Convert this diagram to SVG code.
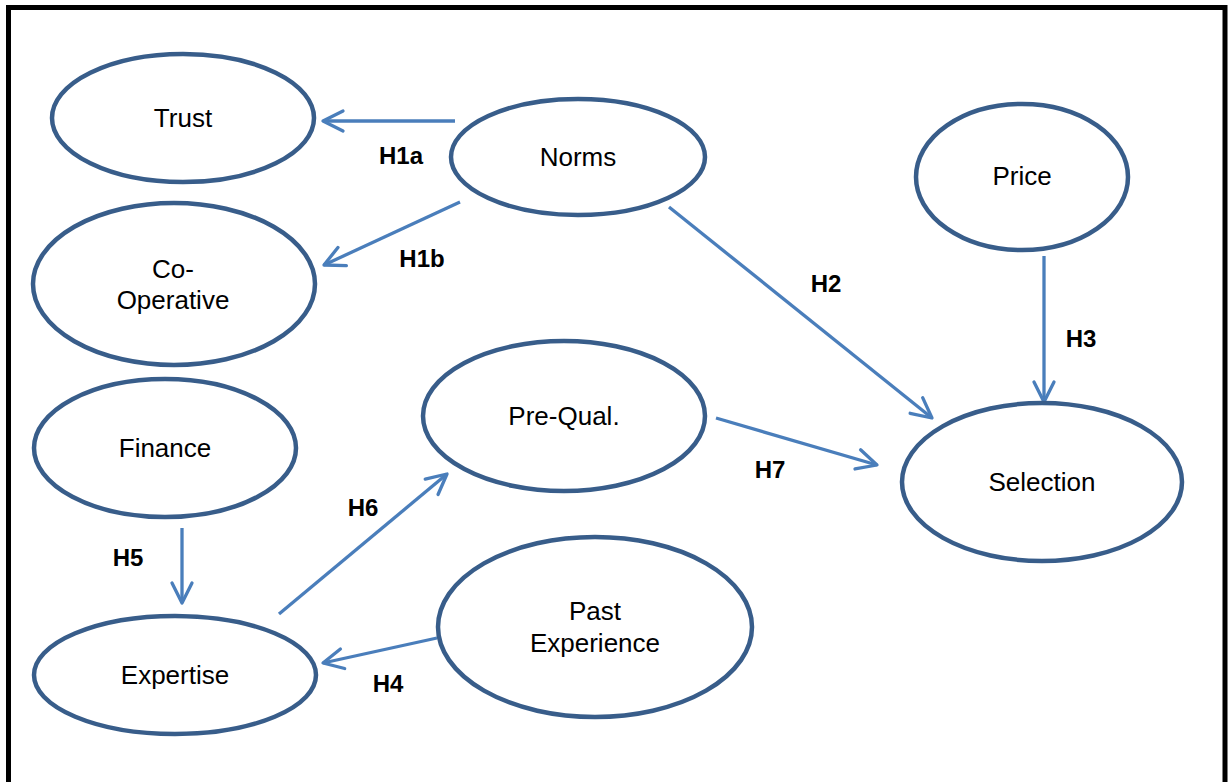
<svg xmlns="http://www.w3.org/2000/svg" width="1232" height="782" viewBox="0 0 1232 782">
  <defs>
    <style>
      .node { fill: #ffffff; stroke: #385d8a; stroke-width: 4.5; }
      .label { font-family: "Liberation Sans", Arial, sans-serif; font-size: 26px; fill: #000000; text-anchor: middle; }
      .hyp { font-family: "Liberation Sans", Arial, sans-serif; font-size: 24px; font-weight: bold; fill: #000000; text-anchor: middle; }
      .link { stroke: #4a7ebb; stroke-width: 3.3; fill: none; marker-end: url(#arrow); }
    </style>
    <marker id="arrow" markerUnits="userSpaceOnUse" viewBox="-24 -14 28 28" refX="0" refY="0" markerWidth="28" markerHeight="28" orient="auto">
      <path d="M-20,-10 L0,0 L-20,10" fill="none" stroke="#4a7ebb" stroke-width="3.3" stroke-linecap="round" stroke-linejoin="round"/>
    </marker>
  </defs>

  <rect width="1232" height="782" fill="#ffffff"/>
  <!-- outer frame -->
  <rect x="8.5" y="7.5" width="1216.5" height="800" fill="none" stroke="#000000" stroke-width="5"/>

  <g id="connectors">
    <line class="link" x1="455" y1="121" x2="323" y2="121"/>
    <line class="link" x1="460" y1="202" x2="324" y2="265"/>
    <line class="link" x1="669" y1="207" x2="932" y2="418"/>
    <line class="link" x1="1044" y1="256" x2="1044" y2="402"/>
    <line class="link" x1="716" y1="418" x2="877" y2="465"/>
    <line class="link" x1="182" y1="528" x2="182" y2="603"/>
    <line class="link" x1="279" y1="614" x2="447" y2="474"/>
    <line class="link" x1="437" y1="638" x2="323" y2="663"/>

    <text class="hyp" x="401" y="164">H1a</text>
    <text class="hyp" x="422" y="267">H1b</text>
    <text class="hyp" x="826" y="292">H2</text>
    <text class="hyp" x="1081" y="347">H3</text>
    <text class="hyp" x="770" y="478">H7</text>
    <text class="hyp" x="363" y="516">H6</text>
    <text class="hyp" x="128" y="566">H5</text>
    <text class="hyp" x="388" y="692">H4</text>
  </g>

  <g id="trust">
    <ellipse class="node" cx="183" cy="118" rx="131" ry="64"/>
    <text class="label" x="183" y="127">Trust</text>
  </g>
  <g id="norms">
    <ellipse class="node" cx="578" cy="157" rx="127" ry="58"/>
    <text class="label" x="578" y="166">Norms</text>
  </g>
  <g id="price">
    <ellipse class="node" cx="1022" cy="177" rx="106" ry="73"/>
    <text class="label" x="1022" y="185">Price</text>
  </g>
  <g id="co-operative">
    <ellipse class="node" cx="174" cy="284" rx="141" ry="81"/>
    <text class="label" x="173" y="278">Co-</text>
    <text class="label" x="173" y="309">Operative</text>
  </g>
  <g id="pre-qual">
    <ellipse class="node" cx="564" cy="416" rx="141" ry="75"/>
    <text class="label" x="564" y="425">Pre-Qual.</text>
  </g>
  <g id="selection">
    <ellipse class="node" cx="1042" cy="482" rx="140" ry="79"/>
    <text class="label" x="1042" y="491">Selection</text>
  </g>
  <g id="finance">
    <ellipse class="node" cx="165" cy="448" rx="131" ry="69"/>
    <text class="label" x="165" y="457">Finance</text>
  </g>
  <g id="past-experience">
    <ellipse class="node" cx="595" cy="627" rx="157" ry="90"/>
    <text class="label" x="595" y="620">Past</text>
    <text class="label" x="595" y="652">Experience</text>
  </g>
  <g id="expertise">
    <ellipse class="node" cx="175" cy="675" rx="141" ry="59"/>
    <text class="label" x="175" y="684">Expertise</text>
  </g>
</svg>
